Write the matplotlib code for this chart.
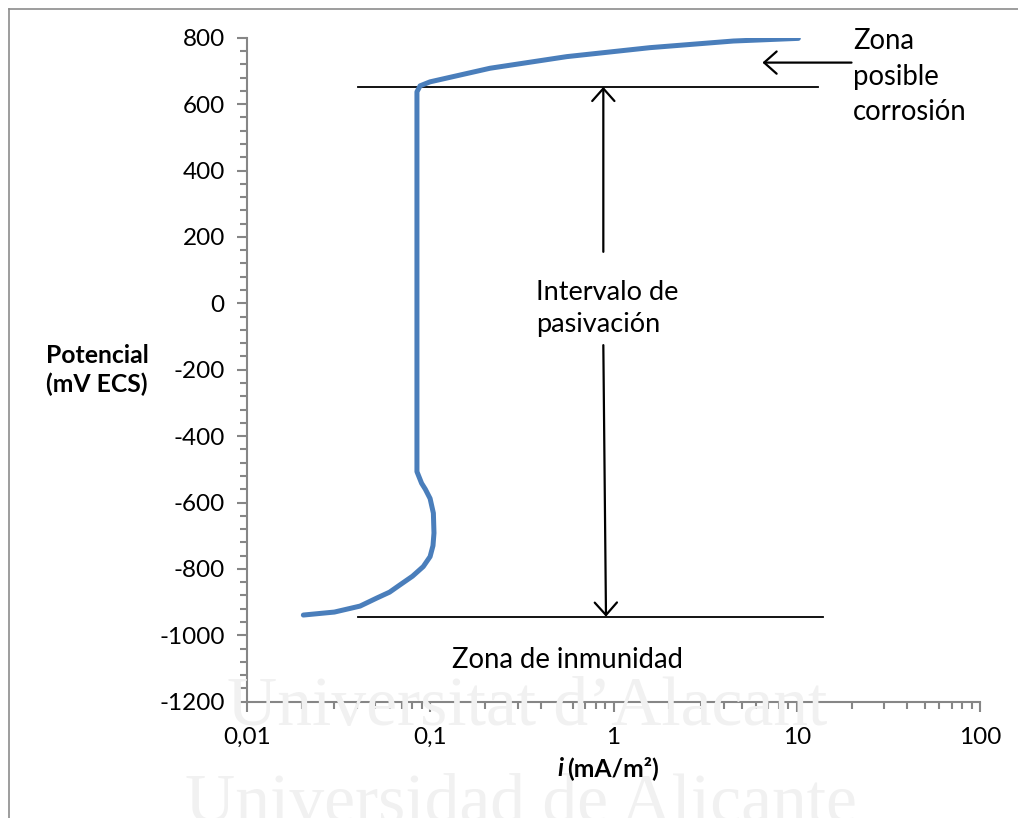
import numpy as np
import matplotlib
matplotlib.use("Agg")
import matplotlib.pyplot as plt
from matplotlib.ticker import LogLocator, MultipleLocator, FuncFormatter, NullFormatter
from matplotlib.lines import Line2D

plt.rcParams['font.family'] = ['Lato', 'DejaVu Sans']
plt.rcParams['axes.unicode_minus'] = False

# polarisation curve
corriente = [0.0203, 0.03, 0.0414, 0.051, 0.06, 0.0684, 0.08, 0.0916, 0.0998, 0.1035, 0.1048,
             0.104, 0.0998, 0.094, 0.0897, 0.0846, 0.0846, 0.088, 0.0997, 0.212, 0.556,
             1.58, 4.51, 10.2]
potencial = [-939, -930, -912, -888, -870, -848, -822, -793, -763, -730, -692,
             -632, -588, -560, -542, -507, 637, 655, 667, 708, 743,
             770, 790, 798]

# reference lines and arrows
linea_pasiv_x = [0.0404, 13.05]
linea_pasiv_y = 652
linea_inmun_x = [0.0404, 13.9]
linea_inmun_y = -944
flecha_x = 0.88
flecha_x_abajo = 0.91
flecha_arriba = [155, 652]
flecha_abajo = [-126, -944]
flecha_corr_x = [19.9, 6.5]
flecha_corr_y = 725

xticks = [0.01, 0.1, 1, 10, 100]
yticks = list(range(-1200, 801, 200))

azul = '#4A7EBB'
gris = '#868686'

fig = plt.figure(figsize=(10.18, 8.18), dpi=100)

# watermark
fig.text(0.518, 1 - 725 / 818, 'Universitat d\u2019Alacant', family='Liberation Serif',
         fontsize=50, color='#f1f1f1', ha='center', va='baseline', zorder=0)
fig.text(0.512, 1 - 822 / 818, 'Universidad de Alicante', family='Liberation Serif',
         fontsize=50, color='#f1f1f1', ha='center', va='baseline', zorder=0)

# frame around the picture (only left and top visible)
fig.add_artist(Line2D([8.5 / 1018, 8.5 / 1018], [0, 1 - 8.5 / 818], color='#8c8c8c', lw=1.2))
fig.add_artist(Line2D([8.5 / 1018, 1], [1 - 8.5 / 818, 1 - 8.5 / 818], color='#8c8c8c', lw=1.2))

ax = fig.add_axes([247 / 1018, 1 - 701.7 / 818, (980 - 247) / 1018, (701.7 - 37.7) / 818])
ax.patch.set_alpha(0)

ax.plot(corriente, potencial, color=azul, lw=3.6, solid_joinstyle='round',
        solid_capstyle='round', zorder=3)

ax.set_xscale('log')
ax.set_xlim(0.01, 100)
ax.set_ylim(-1200, 800)

ax.xaxis.set_minor_locator(LogLocator(base=10, subs=np.arange(2, 10), numticks=20))
ax.xaxis.set_minor_formatter(NullFormatter())
ax.set_xticks(xticks)
ax.xaxis.set_major_formatter(FuncFormatter(lambda v, p: ('%g' % v).replace('.', ',')))
ax.set_yticks(yticks)
ax.yaxis.set_minor_locator(MultipleLocator(40))
ax.yaxis.set_major_formatter(FuncFormatter(lambda v, p: '%d' % v))

for s in ['top', 'right']:
    ax.spines[s].set_visible(False)
for s in ['left', 'bottom']:
    ax.spines[s].set_color(gris)
    ax.spines[s].set_linewidth(1.5)

ax.tick_params(which='major', direction='out', length=7, width=1.5, color=gris,
               labelsize=17.5, labelcolor='black')
ax.tick_params(which='minor', direction='out', length=5, width=1.5, color=gris)
ax.tick_params(axis='y', which='major', pad=9)
ax.tick_params(axis='x', which='major', pad=11)

# horizontal lines
ax.plot(linea_pasiv_x, [linea_pasiv_y] * 2, color='black', lw=1.3, zorder=2)
ax.plot(linea_inmun_x, [linea_inmun_y] * 2, color='black', lw=1.3, zorder=2)

arr = dict(arrowstyle='->, head_length=0.45, head_width=0.4', color='black',
           lw=1.6, mutation_scale=20, shrinkA=0, shrinkB=0)
ax.annotate('', xy=(flecha_x, flecha_arriba[1]), xytext=(flecha_x, flecha_arriba[0]),
            arrowprops=arr)
ax.annotate('', xy=(flecha_x_abajo, flecha_abajo[1]), xytext=(flecha_x, flecha_abajo[0]),
            arrowprops=arr)
ax.annotate('', xy=(flecha_corr_x[1], flecha_corr_y), xytext=(flecha_corr_x[0], flecha_corr_y),
            arrowprops=arr)

ax.text(0.922, -17, 'Intervalo de\npasivación', fontsize=19.5, ha='center', va='center',
        multialignment='left', linespacing=1.35)
ax.text(0.56, -1074, 'Zona de inmunidad', fontsize=19.8, ha='center', va='center')
ax.text(20.3, 682, 'Zona\nposible\ncorrosión', fontsize=19.8, ha='left', va='center',
        multialignment='left', linespacing=1.45, clip_on=False)

# axis titles
fig.text(97 / 1018, 1 - 370 / 818, 'Potencial\n(mV ECS)', fontsize=17.8, fontweight='bold',
         ha='center', va='center', linespacing=1.3)
fig.text(563 / 1018, 1 - 768 / 818, 'i', fontsize=17.8, fontweight='bold', style='italic',
         ha='right', va='center')
fig.text(567 / 1018, 1 - 768 / 818, '(mA/m²)', fontsize=17.8, fontweight='bold',
         ha='left', va='center')

fig.savefig('out.png', dpi=100)
